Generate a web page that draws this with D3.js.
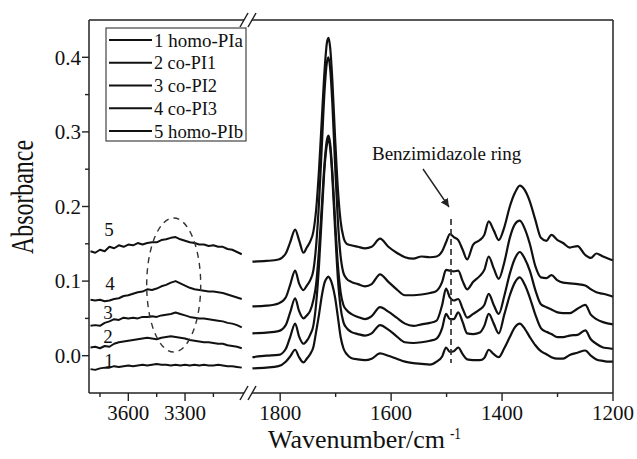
<!DOCTYPE html>
<html>
<head>
<meta charset="utf-8">
<script src="https://cdn.jsdelivr.net/npm/d3@7"></script>
<style>
  body { margin: 0; background: #fff; }
  svg { display: block; }
</style>
</head>
<body>
<svg width="637" height="459" font-family="'Liberation Serif', 'Times New Roman', Times, serif"></svg>
<script>
// series names
const seriesNames = ['1 homo-PIa', '2 co-PI1', '3 co-PI2', '4 co-PI3', '5 homo-PIb']

// left part of the broken axis (N-H region), cm-1
const wnLeft = [3800, 3775, 3750, 3725, 3700, 3675, 3650, 3625, 3600, 3575, 3550, 3525, 3500, 3475, 3450, 3425, 3400,
  3375, 3350, 3325, 3300, 3275, 3250, 3225, 3200, 3175, 3150, 3125, 3100, 3075, 3050, 3025, 3000]

const left1 = [-0.018, -0.019, -0.017, -0.016, -0.016, -0.014, -0.015, -0.014, -0.013, -0.014, -0.013, -0.012, -0.013, -0.012, -0.011, -0.012, -0.012,
  -0.013, -0.012, -0.013, -0.012, -0.013, -0.012, -0.013, -0.012, -0.013, -0.013, -0.012, -0.013, -0.014, -0.014, -0.015, -0.016]
const left2 = [0.011, 0.012, 0.010, 0.013, 0.012, 0.016, 0.018, 0.019, 0.020, 0.021, 0.022, 0.023, 0.024, 0.023, 0.022, 0.024, 0.025,
  0.026, 0.025, 0.024, 0.023, 0.021, 0.020, 0.019, 0.018, 0.018, 0.017, 0.016, 0.016, 0.014, 0.013, 0.012, 0.010]
const left3 = [0.040, 0.041, 0.040, 0.044, 0.046, 0.049, 0.048, 0.051, 0.050, 0.051, 0.050, 0.052, 0.052, 0.053, 0.052, 0.054, 0.055,
  0.056, 0.058, 0.056, 0.054, 0.052, 0.051, 0.050, 0.050, 0.049, 0.048, 0.047, 0.046, 0.044, 0.043, 0.041, 0.038]
const left4 = [0.075, 0.074, 0.075, 0.073, 0.074, 0.076, 0.077, 0.080, 0.081, 0.083, 0.085, 0.086, 0.089, 0.088, 0.090, 0.093, 0.095,
  0.098, 0.100, 0.097, 0.094, 0.091, 0.089, 0.088, 0.087, 0.086, 0.086, 0.085, 0.084, 0.082, 0.080, 0.078, 0.076]
const left5 = [0.140, 0.138, 0.142, 0.140, 0.146, 0.144, 0.148, 0.146, 0.149, 0.148, 0.151, 0.149, 0.151, 0.152, 0.152, 0.155, 0.156,
  0.158, 0.159, 0.156, 0.154, 0.152, 0.151, 0.149, 0.149, 0.147, 0.148, 0.146, 0.146, 0.143, 0.142, 0.139, 0.136]

// right part of the broken axis (fingerprint region), cm-1
const wnRight = [1850, 1825, 1803, 1790, 1782, 1773, 1766, 1758, 1752, 1746,
  1740, 1735, 1730, 1725, 1720, 1716, 1713, 1710, 1706, 1701,
  1696, 1691, 1686, 1680, 1672, 1660, 1647, 1635, 1620, 1605,
  1590, 1575, 1560, 1545, 1530, 1518, 1508, 1501, 1494, 1487,
  1479, 1471, 1463, 1452, 1440, 1432, 1424, 1415, 1406, 1396,
  1386, 1377, 1368, 1359, 1350, 1340, 1330, 1320, 1311, 1300,
  1290, 1278, 1264, 1250, 1240, 1230, 1218, 1208, 1200]

const right1 = [-0.017, -0.016, -0.014, -0.008, -0.001, 0.008, -0.002, -0.009, -0.004, 0.002,
  0.012, 0.033, 0.055, 0.080, 0.098, 0.104, 0.106, 0.103, 0.095, 0.078,
  0.052, 0.025, 0.010, 0.002, -0.003, -0.005, -0.006, -0.004, 0.003, 0.000,
  -0.004, -0.008, -0.010, -0.011, -0.012, -0.008, -0.001, 0.011, 0.005, 0.006,
  0.011, 0.002, -0.005, -0.006, -0.006, -0.003, 0.008, 0.002, -0.002, 0.010,
  0.025, 0.038, 0.043, 0.036, 0.025, 0.014, 0.006, 0.002, -0.002, -0.004,
  -0.004, 0.001, 0.004, 0.007, 0.000, -0.005, -0.007, -0.008, -0.008]
const right2 = [-0.002, 0.000, 0.001, 0.009, 0.025, 0.043, 0.026, 0.016, 0.020, 0.028,
  0.041, 0.071, 0.121, 0.187, 0.252, 0.282, 0.290, 0.280, 0.240, 0.169,
  0.104, 0.064, 0.045, 0.037, 0.032, 0.029, 0.027, 0.030, 0.041, 0.035,
  0.026, 0.018, 0.017, 0.018, 0.020, 0.023, 0.037, 0.056, 0.049, 0.049,
  0.058, 0.045, 0.030, 0.029, 0.031, 0.040, 0.056, 0.043, 0.030, 0.055,
  0.081, 0.098, 0.105, 0.095, 0.078, 0.055, 0.037, 0.032, 0.029, 0.025,
  0.025, 0.027, 0.028, 0.034, 0.022, 0.016, 0.011, 0.010, 0.009]
const right3 = [0.030, 0.031, 0.033, 0.041, 0.058, 0.077, 0.060, 0.050, 0.054, 0.060,
  0.075, 0.097, 0.142, 0.200, 0.258, 0.288, 0.295, 0.285, 0.247, 0.181,
  0.122, 0.085, 0.068, 0.061, 0.056, 0.052, 0.049, 0.053, 0.065, 0.059,
  0.051, 0.043, 0.040, 0.042, 0.044, 0.047, 0.068, 0.090, 0.078, 0.074,
  0.076, 0.063, 0.051, 0.056, 0.062, 0.068, 0.083, 0.068, 0.056, 0.080,
  0.110, 0.130, 0.139, 0.130, 0.114, 0.088, 0.069, 0.065, 0.062, 0.058,
  0.057, 0.057, 0.063, 0.068, 0.055, 0.049, 0.045, 0.043, 0.042]
const right4 = [0.066, 0.067, 0.070, 0.078, 0.095, 0.114, 0.097, 0.088, 0.094, 0.101,
  0.115, 0.149, 0.205, 0.280, 0.355, 0.392, 0.400, 0.386, 0.339, 0.256,
  0.181, 0.133, 0.111, 0.103, 0.099, 0.096, 0.093, 0.096, 0.109, 0.099,
  0.089, 0.081, 0.081, 0.082, 0.084, 0.087, 0.099, 0.115, 0.114, 0.113,
  0.114, 0.100, 0.089, 0.099, 0.107, 0.115, 0.133, 0.117, 0.103, 0.125,
  0.158, 0.176, 0.181, 0.170, 0.150, 0.120, 0.105, 0.104, 0.108, 0.101,
  0.098, 0.097, 0.096, 0.094, 0.089, 0.085, 0.083, 0.081, 0.079]
const right5 = [0.126, 0.127, 0.129, 0.137, 0.152, 0.169, 0.155, 0.138, 0.145, 0.153,
  0.167, 0.197, 0.249, 0.316, 0.382, 0.418, 0.426, 0.414, 0.370, 0.292,
  0.224, 0.180, 0.159, 0.150, 0.148, 0.146, 0.144, 0.146, 0.157, 0.146,
  0.138, 0.132, 0.130, 0.133, 0.132, 0.133, 0.140, 0.152, 0.163, 0.159,
  0.155, 0.142, 0.129, 0.149, 0.155, 0.162, 0.180, 0.168, 0.155, 0.172,
  0.200, 0.218, 0.228, 0.222, 0.207, 0.182, 0.158, 0.154, 0.162, 0.155,
  0.151, 0.145, 0.147, 0.135, 0.131, 0.137, 0.133, 0.130, 0.128]

// ticks
const yTicks = [0.0, 0.1, 0.2, 0.3, 0.4]
const yMinor = [0.05, 0.15, 0.25, 0.35]
const xTicksLeft = [3600, 3300]
const xMinorLeft = [3750, 3450, 3150]
const xTicksRight = [1800, 1600, 1400, 1200]
const xMinorRight = [1700, 1500, 1300]

const leftSeries = [left1, left2, left3, left4, left5]
const rightSeries = [right1, right2, right3, right4, right5]

const svg = d3.select('svg')
const frame = { left: 89, right: 613, top: 20, bottom: 393, brk: 248 }

const y = d3.scaleLinear().domain([-0.05, 0.45]).range([frame.bottom, frame.top])
const xL = d3.scaleLinear().domain([3808, 2967]).range([frame.left, frame.brk])
const xR = d3.scaleLinear().domain([1858, 1200]).range([frame.brk, frame.right])

// the serif font may be missing: squeeze a text to the width it has in the figure
function fitWidth(sel, w) {
  sel.each(function () {
    if (this.getComputedTextLength() > w) {
      d3.select(this).attr('textLength', w).attr('lengthAdjust', 'spacingAndGlyphs')
    }
  })
  return sel
}

// spectra
const lineL = d3.line().x(d => xL(d[0])).y(d => y(d[1]))
const lineR = d3.line().x(d => xR(d[0])).y(d => y(d[1])).curve(d3.curveMonotoneX)

svg.append('g').selectAll('path.left')
  .data(leftSeries)
  .enter()
  .append('path')
    .attr('class', 'left')
    .attr('d', s => lineL(s.map((v, i) => [wnLeft[i], v])))
    .attr('fill', 'none')
    .attr('stroke', '#111')
    .attr('stroke-width', 2)
    .attr('stroke-linejoin', 'round')

svg.append('g').selectAll('path.right')
  .data(rightSeries)
  .enter()
  .append('path')
    .attr('class', 'right')
    .attr('d', s => lineR(s.map((v, i) => [wnRight[i], v])))
    .attr('fill', 'none')
    .attr('stroke', '#111')
    .attr('stroke-width', 2.2)

// frame, with a gap at the axis break
const axisColor = '#222'
const fr = svg.append('g').attr('stroke', axisColor).attr('stroke-width', 1.5).attr('fill', 'none')
fr.append('line').attr('x1', frame.left).attr('x2', frame.left).attr('y1', frame.top).attr('y2', frame.bottom)
fr.append('line').attr('x1', frame.right).attr('x2', frame.right).attr('y1', frame.top).attr('y2', frame.bottom)
;[frame.top, frame.bottom].forEach(yy => {
  fr.append('line').attr('x1', frame.left).attr('x2', frame.brk - 4).attr('y1', yy).attr('y2', yy)
  fr.append('line').attr('x1', frame.brk + 4).attr('x2', frame.right).attr('y1', yy).attr('y2', yy)
  ;[-4, 4].forEach(dx => {
    fr.append('line')
      .attr('x1', frame.brk + dx - 4).attr('y1', yy + 7)
      .attr('x2', frame.brk + dx + 4).attr('y2', yy - 7)
  })
})

// y ticks
const tk = svg.append('g').attr('stroke', axisColor).attr('stroke-width', 1.4)
yTicks.forEach(v => tk.append('line').attr('x1', frame.left - 7).attr('x2', frame.left).attr('y1', y(v)).attr('y2', y(v)))
yMinor.forEach(v => tk.append('line').attr('x1', frame.left - 4).attr('x2', frame.left).attr('y1', y(v)).attr('y2', y(v)))

svg.append('g').selectAll('text')
  .data(yTicks)
  .enter()
  .append('text')
    .attr('x', 81)
    .attr('y', d => y(d))
    .attr('dy', '0.35em')
    .attr('text-anchor', 'end')
    .attr('font-size', 21)
    .attr('fill', '#111')
    .text(d => d3.format('.1f')(d))
    .call(fitWidth, 30)

// x ticks on both parts
const xt = [
  ...xTicksLeft.map(v => ({ x: xL(v), major: true, label: v })),
  ...xMinorLeft.map(v => ({ x: xL(v), major: false })),
  ...xTicksRight.map(v => ({ x: xR(v), major: true, label: v })),
  ...xMinorRight.map(v => ({ x: xR(v), major: false }))
]
xt.forEach(t => tk.append('line')
  .attr('x1', t.x).attr('x2', t.x)
  .attr('y1', frame.bottom).attr('y2', frame.bottom + (t.major ? 8 : 4)))

svg.append('g').selectAll('text')
  .data(xt.filter(t => t.major))
  .enter()
  .append('text')
    .attr('x', d => d.x)
    .attr('y', 420)
    .attr('text-anchor', 'middle')
    .attr('font-size', 21)
    .attr('fill', '#111')
    .text(d => d.label)
    .call(fitWidth, 42)

// axis titles
const xTitle = svg.append('text')
  .attr('x', 268).attr('y', 448)
  .attr('font-size', 26)
  .attr('fill', '#111')
  .text('Wavenumber/cm')
  .call(fitWidth, 188)
const titleEnd = 268 + Math.min(188, xTitle.node().getComputedTextLength())
svg.append('text')
  .attr('x', titleEnd + 5).attr('y', 439)
  .attr('font-size', 16)
  .attr('fill', '#111')
  .text('-1')
  .call(fitWidth, 11)

svg.append('text')
  .attr('transform', 'translate(33,197) rotate(-90)')
  .attr('text-anchor', 'middle')
  .attr('font-size', 31)
  .attr('textLength', 114)
  .attr('lengthAdjust', 'spacingAndGlyphs')
  .attr('fill', '#111')
  .text('Absorbance')

// legend
const lg = svg.append('g')
lg.append('rect')
  .attr('x', 106).attr('y', 28).attr('width', 140).attr('height', 113)
  .attr('fill', '#fff').attr('stroke', '#444').attr('stroke-width', 1.2)
const lgWidths = [89, 62, 63, 63, 89]
const lgItems = lg.selectAll('g.item')
  .data(seriesNames)
  .enter()
  .append('g')
    .attr('class', 'item')
    .attr('transform', (d, i) => `translate(0,${40 + i * 22.75})`)
lgItems.append('line')
  .attr('x1', 109).attr('x2', 152)
  .attr('stroke', '#111').attr('stroke-width', 2.2)
lgItems.append('text')
  .attr('x', 154).attr('dy', '0.35em')
  .attr('font-size', 19)
  .attr('fill', '#111')
  .text(d => d)
  .each(function (d, i) { fitWidth(d3.select(this), lgWidths[i]) })

// curve numbers on the left
const numPos = [[109, 360], [108, 336], [108, 312], [110, 283], [109, 229]]
svg.append('g').selectAll('text')
  .data(numPos)
  .enter()
  .append('text')
    .attr('x', d => d[0]).attr('y', d => d[1])
    .attr('dy', '0.35em')
    .attr('text-anchor', 'middle')
    .attr('font-size', 19)
    .attr('fill', '#111')
    .text((d, i) => i + 1)

// dashed ellipse round the N-H band
svg.append('ellipse')
  .attr('cx', xL(3360)).attr('cy', 285)
  .attr('rx', 27).attr('ry', 67)
  .attr('fill', 'none')
  .attr('stroke', '#333').attr('stroke-width', 1.4)
  .attr('stroke-dasharray', '6,5')

// benzimidazole annotation
svg.append('defs').append('marker')
  .attr('id', 'arrow')
  .attr('viewBox', '0 0 10 10')
  .attr('refX', 10).attr('refY', 5)
  .attr('markerWidth', 6).attr('markerHeight', 6)
  .attr('orient', 'auto')
  .append('path').attr('d', 'M0,0L10,5L0,10z').attr('fill', '#222')

svg.append('text')
  .attr('x', 372).attr('y', 160)
  .attr('font-size', 19)
  .attr('fill', '#111')
  .text('Benzimidazole ring')
  .call(fitWidth, 156)

svg.append('line')
  .attr('x1', 423).attr('y1', 169)
  .attr('x2', 449).attr('y2', 207)
  .attr('stroke', '#222').attr('stroke-width', 1.4)
  .attr('marker-end', 'url(#arrow)')

svg.append('line')
  .attr('x1', xR(1492)).attr('x2', xR(1492))
  .attr('y1', 219).attr('y2', 363)
  .attr('stroke', '#333').attr('stroke-width', 1.7)
  .attr('stroke-dasharray', '6,4')
</script>
</body>
</html>
